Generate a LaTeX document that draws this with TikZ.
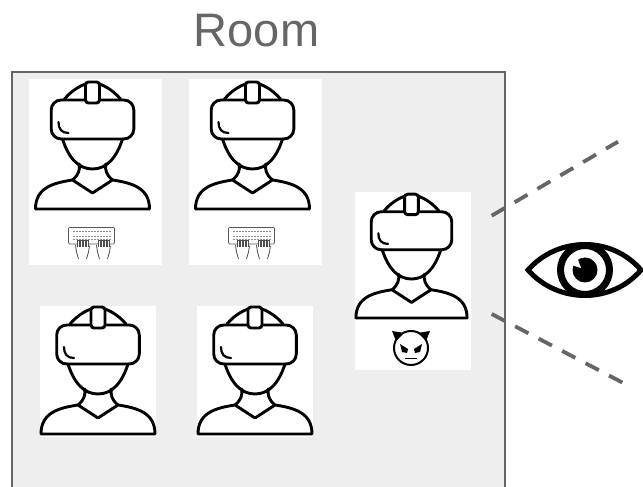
\documentclass[tikz,border=0pt]{standalone}
\usepackage{fontspec}
\setmainfont{Liberation Sans}
\usepackage{xcolor}
\definecolor{grisRoom}{HTML}{666666}
\definecolor{fondoRoom}{HTML}{EEEEEE}
\usepackage{tikz}
\usetikzlibrary{arrows.meta,positioning,calc}

\tikzset{
 headset/.pic={
  \draw[line width=2.9pt,line join=round,line cap=round]
   (-57,1)--(57,1) (-57,1) .. controls (-57,22) and (-40,27) .. (-20,30)
   (57,1) .. controls (57,22) and (40,27) .. (20,30)
   (-20,30)--(0,17)--(20,30)
   (-20,30) .. controls (-13,36) and (-13,40) .. (-13,46)
   (20,30) .. controls (13,36) and (13,40) .. (13,46)
   (-30,71) .. controls (-24,52) and (-14,41) .. (0,41) .. controls (14,41) and (24,52) .. (30,71)
   (-28,111) .. controls (-22,118) and (-15,123) .. (-7,126)
   (28,111) .. controls (22,118) and (15,123) .. (7,126);
  \draw[line width=2.9pt,rounded corners=10pt] (-41.3,71) rectangle (41.3,110);
  \draw[line width=2.9pt,rounded corners=3pt,fill=white] (-7,107) rectangle (7,128);
  \draw[line width=2.2pt,line cap=round] (-34,88) .. controls (-34,81) and (-31,77) .. (-24,77);
 },
 keyboard/.pic={
  \draw[line width=.7pt,draw=black!65,rounded corners=1pt] (-23,0) rectangle (23,16.5);
  \foreach \rowy in {5,8,13}
   \draw[line width=.9pt,draw=black!45,dash pattern=on 2pt off 1pt] (-19,\rowy)--(19,\rowy);
  \foreach \handx in {-9,12}{
   \fill[white] (\handx-6,-5) rectangle (\handx+6,4);
   \foreach \fingerx in {-5,-2,1,4}
    \draw[line width=.8pt,draw=black!70] (\handx+\fingerx,-3)--(\handx+\fingerx,4)--(\handx+\fingerx+1.5,4)--(\handx+\fingerx+1.5,-3);
   \draw[line width=.8pt,draw=black!70] (\handx-7,-1)--(\handx-6,-8)--(\handx-4,-15)
    (\handx+7,-2)--(\handx+6,-8)--(\handx+4,-15);
  }
 },
 devil/.pic={
  \draw[line width=2pt] (0,0) circle (17);
  \foreach \sidex in {-1,1}{
   \fill (\sidex*19,17)--(\sidex*7,15)--(\sidex*15,7)--cycle;
   \fill (\sidex*11,4)--(\sidex*3,-1)--(\sidex*4,-5)--(\sidex*9,-4)--cycle;
  }
  \draw[line width=1pt] (-6,-11)--(6,-11);
 }
}

\begin{document}
\begin{tikzpicture}[
 x=1pt,y=1pt,
 card/.style={fill=white,inner sep=0pt},
 sight/.style={draw=grisRoom,line width=3.8pt,dash pattern=on 15pt off 11.5pt}]
 \useasboundingbox (0,0) rectangle (643,487);
 % room, open at the bottom edge
 \fill[fondoRoom] (12,0) rectangle (505,415);
 \draw[grisRoom,line width=1.8pt] (12,0)--(12,415)--(505,415)--(505,0);
 \node[anchor=base,text=grisRoom,font=\fontsize{47}{50}\selectfont,inner sep=0pt] (title) at (256.5,440) {Room};
 % users
 \node[card,minimum width=133pt,minimum height=186pt] (userA) at (95.5,315) {};
 \node[card,minimum width=133pt,minimum height=186pt] (userB) at (255.5,315) {};
 \node[card,minimum width=116pt,minimum height=131pt] (userC) at (98,115.5) {};
 \node[card,minimum width=116pt,minimum height=131pt] (userD) at (255,115.5) {};
 \node[card,minimum width=116pt,minimum height=178pt] (attacker) at (413,206) {};
 \pic at (92.5,277) {headset};
 \pic at (252.5,277) {headset};
 \pic at (98,52) {headset};
 \pic at (255,52) {headset};
 \pic[scale=.975] at (411.5,168) {headset};
 \pic at (91.5,243) {keyboard};
 \pic at (251.5,243) {keyboard};
 \pic at (411,139) {devil};
 % sight lines
 \coordinate (topNear) at (491.7,271.3);
 \coordinate (topFar) at (618,345.3);
 \coordinate (lowNear) at (491.7,173);
 \coordinate (lowFar) at (622.7,104.3);
 \draw[sight] (topNear)--(topFar);
 \draw[sight] (lowNear)--(lowFar);
 % eye
 \coordinate (eye) at (585,217);
 \draw[line width=5pt,miter limit=8] (528,217) .. controls (558,251) and (612,251) .. (641,217)
  .. controls (612,183) and (558,183) .. cycle;
 \draw[line width=7pt,fill=white] (eye) circle (24.5);
 \fill (eye) circle (12.5);
 \fill[white] ($(eye)+(-4,2)$)--($(eye)+(-14,5)$)--($(eye)+(-8,13)$)--cycle;
\end{tikzpicture}
\end{document}
